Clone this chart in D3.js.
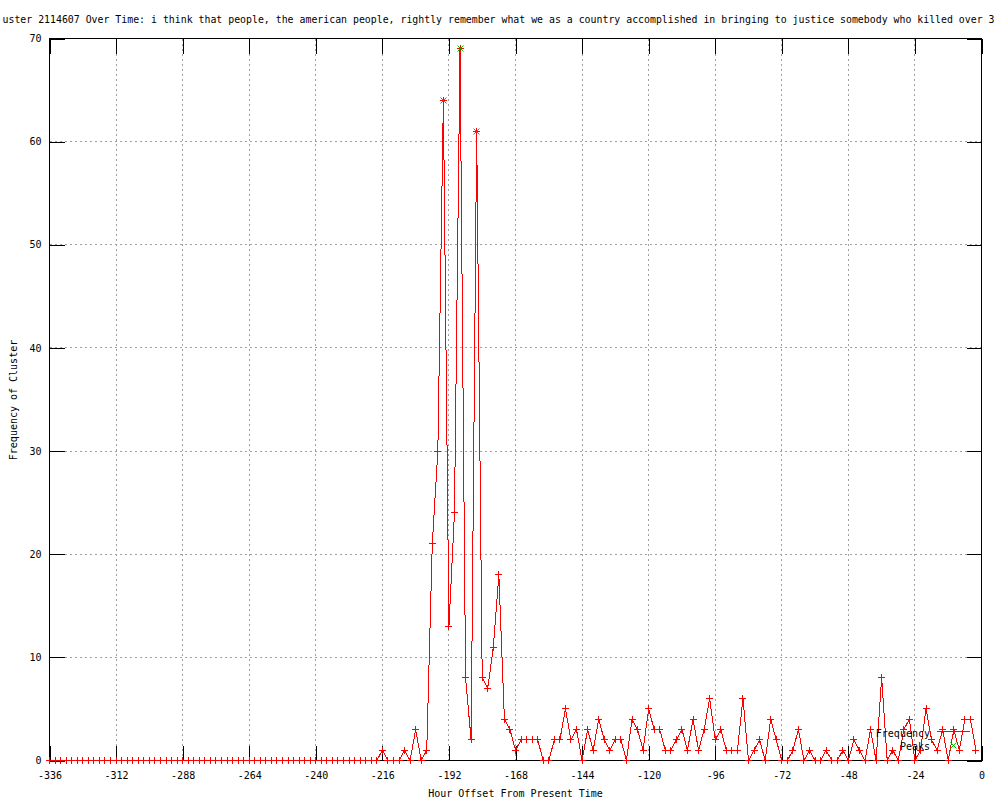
<!DOCTYPE html>
<html>
<head>
<meta charset="utf-8">
<script src="https://cdn.jsdelivr.net/npm/d3@7"></script>
<style>
  body { margin: 0; background: #fff; }
  svg { display: block; }
  text { font-family: "DejaVu Sans Mono", monospace; font-size: 10px; fill: #000; }
</style>
</head>
<body>
<div id="chart"></div>
<script>
//Data
const titleText = 'uster 2114607 Over Time: i think that people, the american people, rightly remember what we as a country accomplished in bringing to justice somebody who killed over 3'

// hour offsets, one every 2 hours from -336 to -2
const hours = d3.range(-336, 0, 2)

const freq = [
    0, 0, 0, 0, 0, 0, 0, 0, 0, 0,       // -336 .. -318
    0, 0, 0, 0, 0, 0, 0, 0, 0, 0,       // -316 .. -298
    0, 0, 0, 0, 0, 0, 0, 0, 0, 0,       // -296 .. -278
    0, 0, 0, 0, 0, 0, 0, 0, 0, 0,       // -276 .. -258
    0, 0, 0, 0, 0, 0, 0, 0, 0, 0,       // -256 .. -238
    0, 0, 0, 0, 0, 0, 0, 0, 0, 0,       // -236 .. -218
    1, 0, 0, 0, 1, 0, 3, 0, 1, 21,      // -216 .. -198
    30, 64, 13, 24, 69, 8, 2, 61, 8, 7, // -196 .. -178
    11, 18, 4, 3, 1, 2, 2, 2, 2, 0,     // -176 .. -158
    0, 2, 2, 5, 2, 3, 0, 3, 1, 4,       // -156 .. -138
    2, 1, 2, 2, 0, 4, 3, 1, 5, 3,       // -136 .. -118
    3, 1, 1, 2, 3, 1, 4, 1, 3, 6,       // -116 .. -98
    2, 3, 1, 1, 1, 6, 0, 1, 2, 0,       // -96 .. -78
    4, 2, 0, 0, 1, 3, 0, 1, 0, 0,       // -76 .. -58
    1, 0, 0, 1, 0, 2, 1, 0, 3, 0,       // -56 .. -38
    8, 0, 1, 0, 3, 4, 0, 1, 5, 2,       // -36 .. -18
    1, 3, 0, 3, 1, 4, 4, 1              // -16 .. -2
]

const peakHours = [-194, -188, -182]
const peakFreq = [64, 69, 61]

const xTicks = d3.range(-336, 1, 24)
const yTicks = d3.range(0, 71, 10)

//Dimensions
let margin = { top: 38.5, right: 18.5, bottom: 39.5, left: 49.5 },
    width = 1000,
    height = 800,
    tickLen = 15

const svg = d3.select('#chart')
    .append('svg')
    .attr('width', width)
    .attr('height', height)

// Scale
let x = d3.scaleLinear().domain([-336, 0]).range([margin.left, width - margin.right])
let y = d3.scaleLinear().domain([0, 70]).range([height - margin.bottom, margin.top])

let px = v => Math.round(x(v) - 0.5) + 0.5
let py = v => Math.round(y(v) - 0.5) + 0.5

// Grid
let grid = svg.append('g')
    .attr('stroke', '#a0a0a0')
    .attr('stroke-dasharray', '2,3')
    .attr('shape-rendering', 'crispEdges')

grid.selectAll('.gx')
    .data(xTicks.filter(d => d > -336 && d < 0))
    .enter()
    .append('line')
    .attr('x1', d => px(d)).attr('x2', d => px(d))
    .attr('y1', y(0)).attr('y2', y(70))

grid.selectAll('.gy')
    .data(yTicks.filter(d => d > 0 && d < 70))
    .enter()
    .append('line')
    .attr('x1', x(-336)).attr('x2', x(0))
    .attr('y1', d => py(d)).attr('y2', d => py(d))

// Axes (ticks inward, mirrored)
let fmt = d => String(d).replace('\u2212', '-')

let axisBottom = d3.axisBottom(x).tickValues(xTicks).tickSize(-tickLen).tickPadding(11).tickFormat(fmt)
let axisTop = d3.axisTop(x).tickValues(xTicks).tickSize(-tickLen).tickFormat('')
let axisLeft = d3.axisLeft(y).tickValues(yTicks).tickSize(-tickLen).tickPadding(8)
let axisRight = d3.axisRight(y).tickValues(yTicks).tickSize(-tickLen).tickFormat('')

let xAxis = svg.append('g')
    .attr('class', 'xAxis')
    .attr('transform', 'translate(0,' + y(0) + ')')
    .call(axisBottom)
svg.append('g')
    .attr('transform', 'translate(0,' + y(70) + ')')
    .call(axisTop)
let yAxis = svg.append('g')
    .attr('class', 'yAxis')
    .attr('transform', 'translate(' + x(-336) + ',0)')
    .call(axisLeft)
svg.append('g')
    .attr('transform', 'translate(' + x(0) + ',0)')
    .call(axisRight)

svg.selectAll('.domain').remove()
svg.selectAll('.tick line')
    .attr('stroke', '#000')
    .attr('shape-rendering', 'crispEdges')
svg.selectAll('.tick text')
    .style('font-family', '"DejaVu Sans Mono", monospace')
    .style('font-size', '10px')

// Border
svg.append('rect')
    .attr('x', x(-336))
    .attr('y', y(70))
    .attr('width', x(0) - x(-336))
    .attr('height', y(0) - y(70))
    .attr('fill', 'none')
    .attr('stroke', '#000')
    .attr('shape-rendering', 'crispEdges')

// Frequency line
let line = d3.line()
    .x((d, i) => x(hours[i]))
    .y(d => y(d))

svg.append('path')
    .datum(freq)
    .attr('d', line)
    .attr('fill', 'none')
    .attr('stroke', '#ff0000')
    .attr('stroke-width', 1)
    .attr('shape-rendering', 'crispEdges')

let plusPath = 'M-3.5,0H3.5M0,-3.5V3.5'
let crossPath = 'M-3,-3L3,3M-3,3L3,-3'

svg.append('g')
    .selectAll('path')
    .data(freq)
    .enter()
    .append('path')
    .attr('transform', (d, i) => 'translate(' + px(hours[i]) + ',' + py(d) + ')')
    .attr('d', plusPath)
    .attr('stroke', '#ff0000')
    .attr('shape-rendering', 'crispEdges')

// Peaks
svg.append('g')
    .selectAll('path')
    .data(peakFreq)
    .enter()
    .append('path')
    .attr('transform', (d, i) => 'translate(' + px(peakHours[i]) + ',' + py(d) + ')')
    .attr('d', crossPath)
    .attr('stroke', '#00c000')
    .attr('fill', 'none')

// Title and labels
svg.append('text')
    .attr('x', 2.5)
    .attr('y', 23)
    .attr('textLength', 992)
    .attr('lengthAdjust', 'spacingAndGlyphs')
    .text(titleText)

svg.append('text')
    .attr('x', (x(-336) + x(0)) / 2)
    .attr('y', 797)
    .attr('text-anchor', 'middle')
    .text('Hour Offset From Present Time')

svg.append('text')
    .attr('transform', 'translate(17,400) rotate(-90)')
    .attr('text-anchor', 'middle')
    .text('Frequency of Cluster')

// Legend
let legend = svg.append('g')
legend.append('text').attr('x', 930).attr('y', 737).attr('text-anchor', 'end').text('Frequency')
legend.append('line')
    .attr('x1', 937).attr('x2', 970).attr('y1', 731.5).attr('y2', 731.5)
    .attr('stroke', '#ff0000')
    .attr('shape-rendering', 'crispEdges')
legend.append('path')
    .attr('transform', 'translate(953.5,731.5)')
    .attr('d', plusPath)
    .attr('stroke', '#ff0000')
    .attr('shape-rendering', 'crispEdges')
legend.append('text').attr('x', 930).attr('y', 750).attr('text-anchor', 'end').text('Peaks')
legend.append('path')
    .attr('transform', 'translate(953.5,745.5)')
    .attr('d', crossPath)
    .attr('stroke', '#00c000')
    .attr('fill', 'none')
</script>
</body>
</html>
